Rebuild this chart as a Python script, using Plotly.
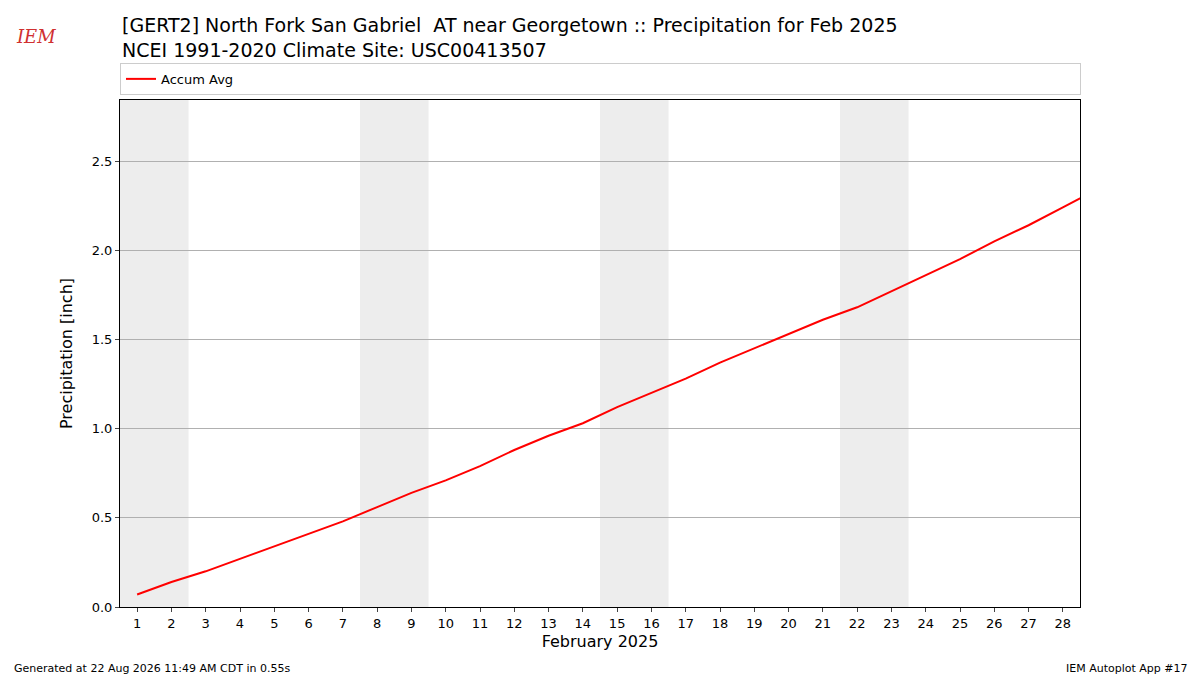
import plotly.graph_objects as go

days = list(range(1, 30))
accum_avg = [0.07, 0.14, 0.20, 0.27, 0.34, 0.41, 0.48, 0.56, 0.64, 0.71,
             0.79, 0.88, 0.96, 1.03, 1.12, 1.20, 1.28, 1.37, 1.45, 1.53,
             1.61, 1.68, 1.77, 1.86, 1.95, 2.05, 2.14, 2.24, 2.34]
weekends = [(0.5, 2.5), (7.5, 9.5), (14.5, 16.5), (21.5, 23.5)]

fig = go.Figure()
fig.add_trace(go.Scatter(x=days, y=accum_avg, mode="lines", name="Accum Avg",
                         line=dict(color="red", width=2)))

for x0, x1 in weekends:
    fig.add_vrect(x0=x0, x1=x1, fillcolor="#ededed", line_width=0, layer="below")

fig.update_layout(
    width=1200, height=675, template="plotly_white",
    font=dict(family="DejaVu Sans", color="black", size=12),
    margin=dict(l=112, r=128, t=92, b=76),
    plot_bgcolor="white",
    showlegend=True,
    legend=dict(x=0, y=1.01, xanchor="left", yanchor="bottom", orientation="h",
                bordercolor="#cccccc", borderwidth=1, font=dict(size=13),
                entrywidth=914, entrywidthmode="pixels"),
)
fig.update_xaxes(range=[0.5, 28.5], tickmode="array", tickvals=days[:28],
                 ticktext=[str(d) for d in days[:28]], showgrid=False,
                 ticks="outside", ticklen=4, mirror=True, showline=True,
                 linecolor="black", tickfont=dict(size=13),
                 title=dict(text="February 2025", font=dict(size=16), standoff=6))
fig.update_yaxes(range=[0, 2.842], tickvals=[0, 0.5, 1.0, 1.5, 2.0, 2.5],
                 ticktext=["0.0", "0.5", "1.0", "1.5", "2.0", "2.5"],
                 showgrid=True, gridcolor="#b0b0b0", ticks="outside", ticklen=4,
                 mirror=True, showline=True, linecolor="black", zeroline=False,
                 tickfont=dict(size=13),
                 title=dict(text="Precipitation [inch]", font=dict(size=16)))

fig.add_annotation(text="[GERT2] North Fork San Gabriel  AT near Georgetown :: Precipitation for Feb 2025<br>NCEI 1991-2020 Climate Site: USC00413507",
                   xref="paper", yref="paper", x=0, y=1, yshift=37,
                   xanchor="left", yanchor="bottom", align="left",
                   showarrow=False, font=dict(size=19))
fig.add_annotation(text="<i>IEM</i>", xref="paper", yref="paper", x=-0.11, y=1.1,
                   xanchor="left", yanchor="bottom", showarrow=False,
                   font=dict(family="DejaVu Serif", size=18, color="#d03030"))
fig.add_annotation(text="Generated at 22 Aug 2026 11:49 AM CDT in 0.55s",
                   xref="paper", yref="paper", x=-0.113, y=-0.105,
                   xanchor="left", yanchor="top", showarrow=False, font=dict(size=11))
fig.add_annotation(text="IEM Autoplot App #17",
                   xref="paper", yref="paper", x=1.115, y=-0.105,
                   xanchor="right", yanchor="top", showarrow=False, font=dict(size=11))

fig.write_html("out.html")
